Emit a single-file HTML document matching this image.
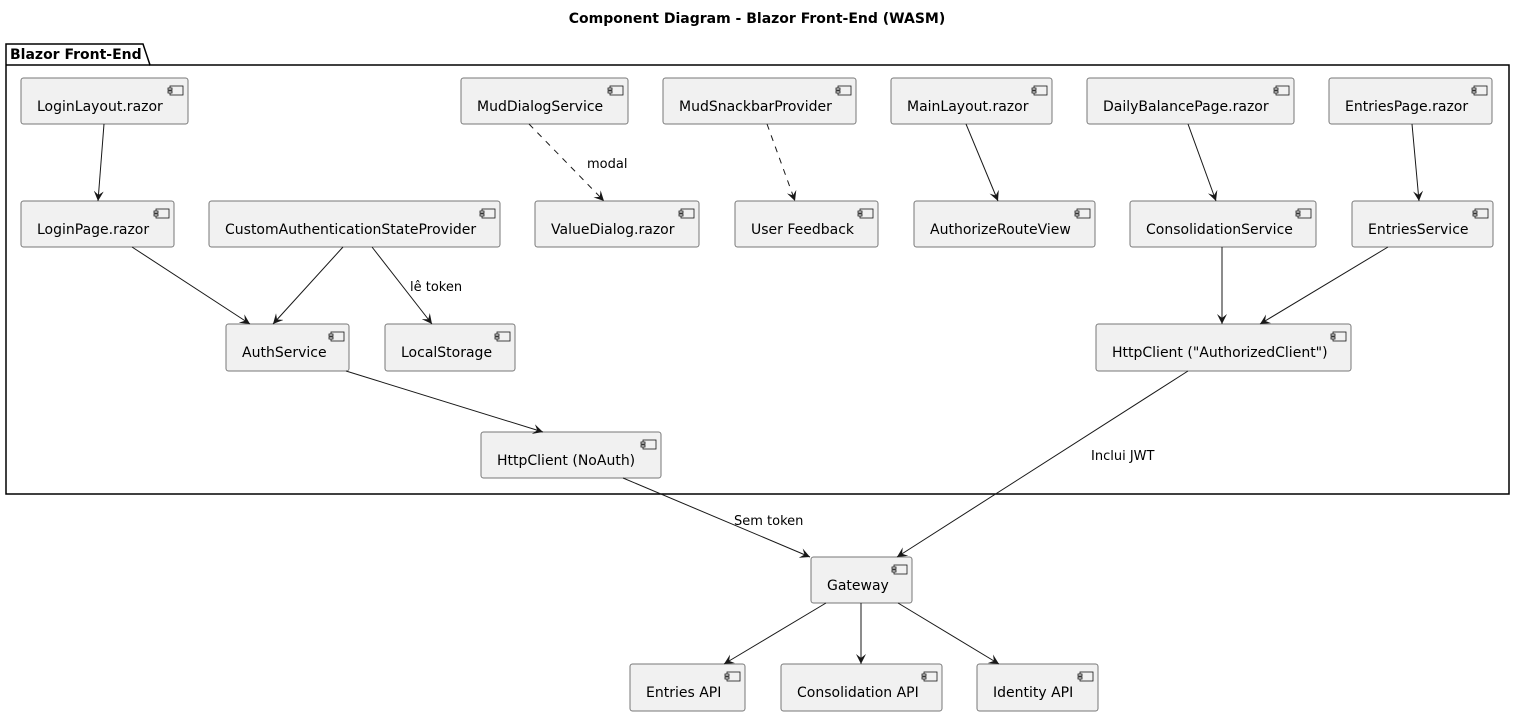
<!DOCTYPE html>
<html><head><meta charset="utf-8"><style>
body{margin:0;background:#fff}
svg{display:block;font-family:"DejaVu Sans","Liberation Sans",sans-serif}
</style></head><body>
<svg width="1515" height="716" viewBox="0 0 1515 716" xmlns="http://www.w3.org/2000/svg">
<defs>
<marker id="a" markerWidth="12" markerHeight="10" refX="10" refY="5" orient="auto" markerUnits="userSpaceOnUse">
<path d="M0,0 L10,5 L0,10 L4,5 z" fill="#181818"/></marker>
<g id="ic"><rect x="-13" y="0" width="13" height="9" fill="#f1f1f1" stroke="#181818" stroke-width="0.8"/><rect x="-15" y="2" width="4" height="2" fill="#f1f1f1" stroke="#181818" stroke-width="0.8"/><rect x="-15" y="5" width="4" height="2" fill="#f1f1f1" stroke="#181818" stroke-width="0.8"/></g>
</defs>
<text x="757" y="23" text-anchor="middle" font-weight="bold" font-size="14">Component Diagram - Blazor Front-End (WASM)</text>
<path d="M6,65 L6,44 L143,44 L150,65 L1509,65 L1509,494 L6,494 Z" fill="none" stroke="#000" stroke-width="1.5"/>
<line x1="6" y1="65" x2="150" y2="65" stroke="#000" stroke-width="1.5"/>
<text x="10" y="59" font-weight="bold" font-size="14">Blazor Front-End</text>
<g font-size="14" fill="#000">
<g stroke="#777" stroke-width="1" fill="#f1f1f1">
<rect x="21" y="78" width="167" height="46" rx="2.5"/>
<rect x="461" y="78" width="167" height="46" rx="2.5"/>
<rect x="663" y="78" width="193" height="46" rx="2.5"/>
<rect x="891" y="78" width="161" height="46" rx="2.5"/>
<rect x="1087" y="78" width="207" height="46" rx="2.5"/>
<rect x="1329" y="78" width="163" height="46" rx="2.5"/>
<rect x="21" y="201" width="153" height="46" rx="2.5"/>
<rect x="209" y="201" width="291" height="46" rx="2.5"/>
<rect x="535" y="201" width="164" height="46" rx="2.5"/>
<rect x="735" y="201" width="143" height="46" rx="2.5"/>
<rect x="914" y="201" width="181" height="46" rx="2.5"/>
<rect x="1130" y="201" width="186" height="46" rx="2.5"/>
<rect x="1352" y="201" width="141" height="46" rx="2.5"/>
<rect x="226" y="324" width="123" height="47" rx="2.5"/>
<rect x="385" y="324" width="130" height="47" rx="2.5"/>
<rect x="1096" y="324" width="255" height="47" rx="2.5"/>
<rect x="481" y="432" width="180" height="46" rx="2.5"/>
<rect x="811" y="557" width="101" height="46" rx="2.5"/>
<rect x="630" y="664" width="115" height="47" rx="2.5"/>
<rect x="781" y="664" width="161" height="47" rx="2.5"/>
<rect x="977" y="664" width="121" height="47" rx="2.5"/>
</g>
<use href="#ic" x="183" y="86"/><use href="#ic" x="623" y="86"/><use href="#ic" x="851" y="86"/><use href="#ic" x="1047" y="86"/><use href="#ic" x="1289" y="86"/><use href="#ic" x="1487" y="86"/>
<use href="#ic" x="169" y="209"/><use href="#ic" x="495" y="209"/><use href="#ic" x="694" y="209"/><use href="#ic" x="873" y="209"/><use href="#ic" x="1090" y="209"/><use href="#ic" x="1311" y="209"/><use href="#ic" x="1488" y="209"/>
<use href="#ic" x="344" y="332"/><use href="#ic" x="510" y="332"/><use href="#ic" x="1346" y="332"/>
<use href="#ic" x="656" y="440"/><use href="#ic" x="907" y="565"/>
<use href="#ic" x="740" y="672"/><use href="#ic" x="937" y="672"/><use href="#ic" x="1093" y="672"/>
<text x="37" y="111">LoginLayout.razor</text>
<text x="477" y="111">MudDialogService</text>
<text x="679" y="111">MudSnackbarProvider</text>
<text x="907" y="111">MainLayout.razor</text>
<text x="1103" y="111">DailyBalancePage.razor</text>
<text x="1345" y="111">EntriesPage.razor</text>
<text x="37" y="234">LoginPage.razor</text>
<text x="225" y="234">CustomAuthenticationStateProvider</text>
<text x="551" y="234">ValueDialog.razor</text>
<text x="751" y="234">User Feedback</text>
<text x="930" y="234">AuthorizeRouteView</text>
<text x="1146" y="234">ConsolidationService</text>
<text x="1368" y="234">EntriesService</text>
<text x="242" y="357">AuthService</text>
<text x="401" y="357">LocalStorage</text>
<text x="1112" y="357">HttpClient ("AuthorizedClient")</text>
<text x="497" y="465">HttpClient (NoAuth)</text>
<text x="827" y="590">Gateway</text>
<text x="646" y="697">Entries API</text>
<text x="797" y="697">Consolidation API</text>
<text x="993" y="697">Identity API</text>
</g>
<g stroke="#181818" stroke-width="1" fill="none" marker-end="url(#a)">
<line x1="104" y1="124" x2="98" y2="201"/>
<line x1="529" y1="124" x2="604" y2="201" stroke-dasharray="6,6"/>
<line x1="767" y1="124" x2="795" y2="201" stroke-dasharray="6,6"/>
<line x1="966" y1="124" x2="998" y2="201"/>
<line x1="1188" y1="124" x2="1216" y2="201"/>
<line x1="1412" y1="124" x2="1419" y2="201"/>
<line x1="132" y1="247" x2="250" y2="324"/>
<line x1="343" y1="247" x2="273" y2="324"/>
<line x1="372" y1="247" x2="432" y2="324"/>
<line x1="1222" y1="247" x2="1222" y2="324"/>
<line x1="1388" y1="247" x2="1260" y2="324"/>
<line x1="346" y1="371" x2="543" y2="432"/>
<line x1="1188" y1="371" x2="897" y2="557"/>
<line x1="623" y1="478" x2="810" y2="557"/>
<line x1="826" y1="603" x2="724" y2="664"/>
<line x1="861" y1="603" x2="861" y2="664"/>
<line x1="898" y1="603" x2="999" y2="664"/>
</g>
<g font-size="13">
<text x="587" y="168">modal</text>
<text x="410" y="291">lê token</text>
<text x="1091" y="460">Inclui JWT</text>
<text x="734" y="525">Sem token</text>
</g>
</svg>
</body></html>
